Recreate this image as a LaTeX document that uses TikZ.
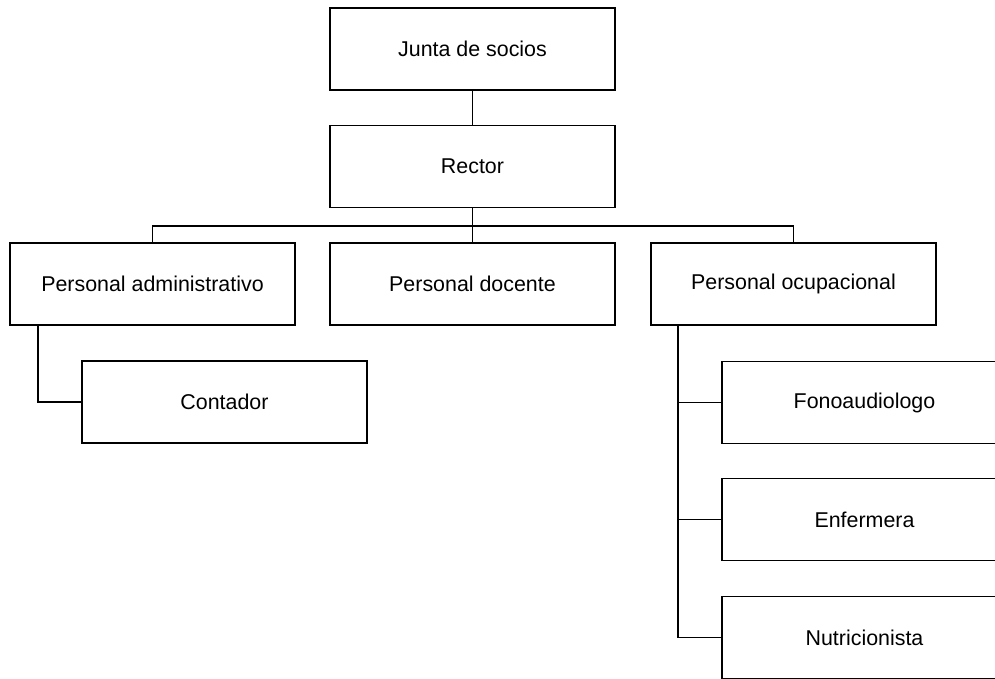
\documentclass[tikz,border=0pt]{standalone}
\usepackage{fontspec}
\setmainfont{Liberation Sans}
\begin{document}
\begin{tikzpicture}[x=0.5pt,y=-0.5pt,
  orgbox/.style={draw=black, line width=0.9pt, minimum width=142.5pt, minimum height=41pt,
    inner sep=0pt, font=\fontsize{10.7pt}{12pt}\selectfont, fill=white},
  link/.style={draw=black, line width=0.9pt}]
\useasboundingbox (0,0) rectangle (995,679);
\clip (0,0) rectangle (995,679);
\node[orgbox] (junta) at (472.5,49) {Junta de socios};
\node[orgbox] (rector) at (472.5,166.5) {Rector};
\node[orgbox] (admin) at (152.5,284) {Personal administrativo};
\node[orgbox] (docente) at (472.5,284) {Personal docente};
\node[orgbox] (ocup) at (793.5,284) {Personal ocupacional};
\node[orgbox] (contador) at (224.5,402) {Contador};
\node[orgbox] (fono) at (864.5,402.5) {Fonoaudiologo};
\node[orgbox] (enf) at (864.5,519.5) {Enfermera};
\node[orgbox] (nutri) at (864.5,637.5) {Nutricionista};
\coordinate (bus) at (472.5,226);
\coordinate (ad) at ([xshift=14.5pt]admin.south west);
\coordinate (od) at ([xshift=14pt]ocup.south west);
\draw[link] (junta) -- (rector);
\draw[link] (rector) -- (docente);
\draw[link] (admin.north) -- (admin.north |- bus) -- (ocup.north |- bus) -- (ocup.north);
\draw[link] (ad) |- (contador.west);
\draw[link] (od) |- (nutri.west);
\draw[link] (fono.west) -- (fono.west -| od);
\draw[link] (enf.west) -- (enf.west -| od);
\end{tikzpicture}
\end{document}
